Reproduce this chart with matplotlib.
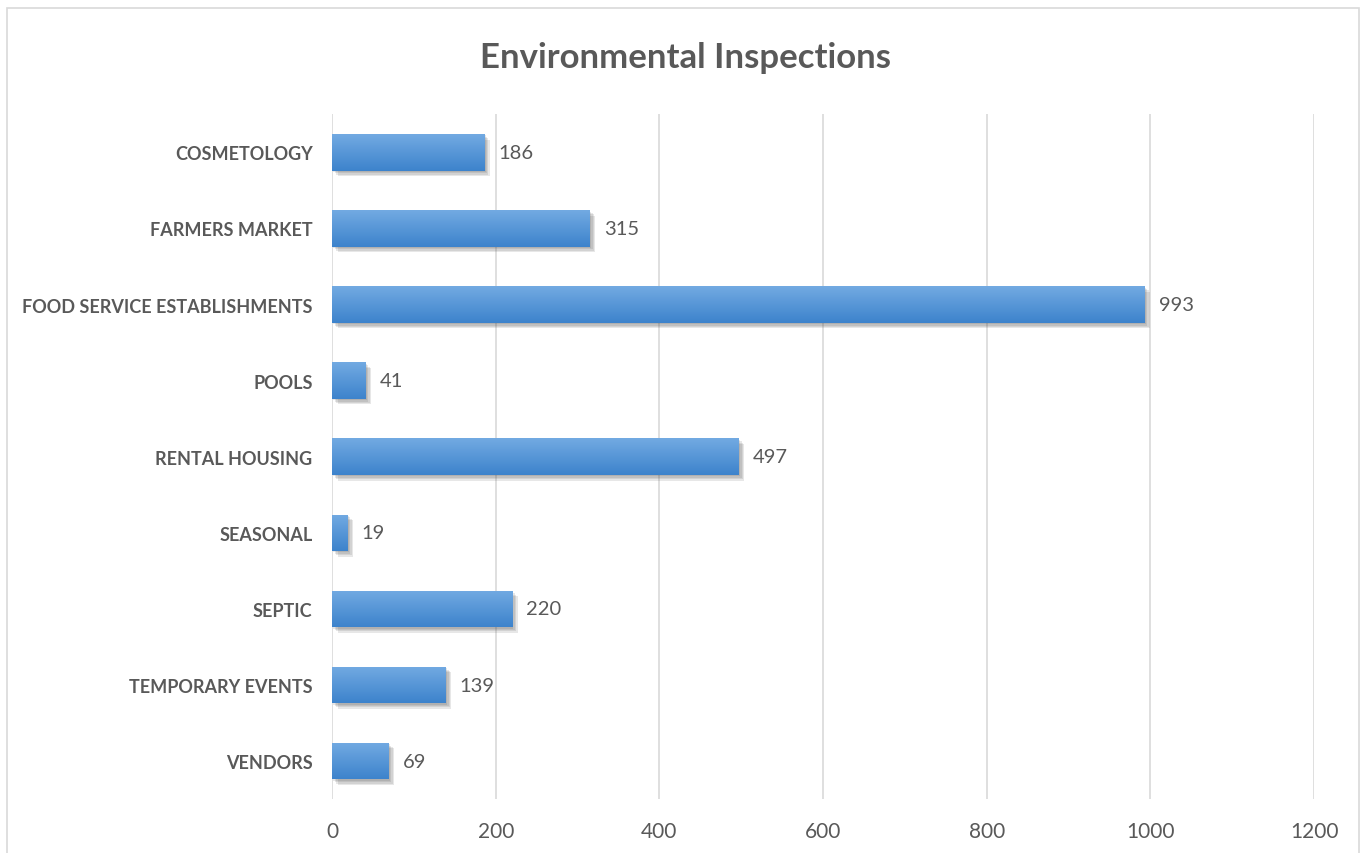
import numpy as np
import matplotlib
matplotlib.use('Agg')
import matplotlib.pyplot as plt
import matplotlib.patheffects as pe
from matplotlib.colors import LinearSegmentedColormap
from matplotlib.patches import Rectangle

categories = ['COSMETOLOGY', 'FARMERS MARKET', 'FOOD SERVICE ESTABLISHMENTS', 'POOLS',
              'RENTAL HOUSING', 'SEASONAL', 'SEPTIC', 'TEMPORARY EVENTS', 'VENDORS']
values = [186, 315, 993, 41, 497, 19, 220, 139, 69]
xticks = [0, 200, 400, 600, 800, 1000, 1200]

plt.rcParams['font.family'] = ['Lato', 'DejaVu Sans']
txt_color = '#595959'

fig = plt.figure(figsize=(13.63, 8.54), dpi=100)
ax = fig.add_axes([0.2436, 0.063, 0.7205, 0.802])

# outer chart border
fig.patches.append(Rectangle((0.005, -0.01), 0.992, 1.0, transform=fig.transFigure,
                             fill=False, edgecolor='#d9d9d9', linewidth=1.2))

# soft shadow, built from a few offset layers
shadow = [pe.SimplePatchShadow(offset=(d, -d), alpha=0.12, shadow_rgbFace='#404040')
          for d in (1, 2, 3, 4)]
ypos = np.arange(len(categories))
bars = ax.barh(ypos, values, height=0.48, color='#4a8fd6', zorder=3,
               path_effects=shadow + [pe.Normal()])

# gradient fill on bars (lighter top, darker bottom)
cmap = LinearSegmentedColormap.from_list('bargrad', ['#72aae2', '#3d83cc'])
grad = np.linspace(0, 1, 64).reshape(-1, 1)
for b in bars:
    x0, y0 = b.get_x(), b.get_y()
    w, h = b.get_width(), b.get_height()
    im = ax.imshow(grad, cmap=cmap, aspect='auto', origin='upper',
                   extent=[x0, x0 + w, y0 + h, y0], zorder=4)
    im.set_clip_path(b)

for y, v in zip(ypos, values):
    ax.annotate(str(v), (v, y), xytext=(10, 0), textcoords='offset points',
                va='center', ha='left', fontsize=14.5, color=txt_color)

ax.set_xlim(0, 1200)
ax.set_ylim(len(categories) - 0.5, -0.5)
ax.set_xticks(xticks)
ax.set_xticklabels([str(t) for t in xticks], fontsize=15, color=txt_color)
ax.set_yticks(ypos)
ax.set_yticklabels(categories, fontsize=13, fontweight='bold', color=txt_color)
ax.tick_params(axis='both', length=0)
ax.tick_params(axis='x', pad=16)
ax.tick_params(axis='y', pad=14)
ax.grid(axis='x', color='#d9d9d9', linewidth=1.2, zorder=0)
ax.set_axisbelow(True)
for s in ax.spines.values():
    s.set_visible(False)

fig.text(0.5026, 0.932, 'Environmental Inspections', ha='center', va='center',
         fontsize=25, fontweight='bold', color=txt_color)

fig.savefig('out.png', dpi=100)
